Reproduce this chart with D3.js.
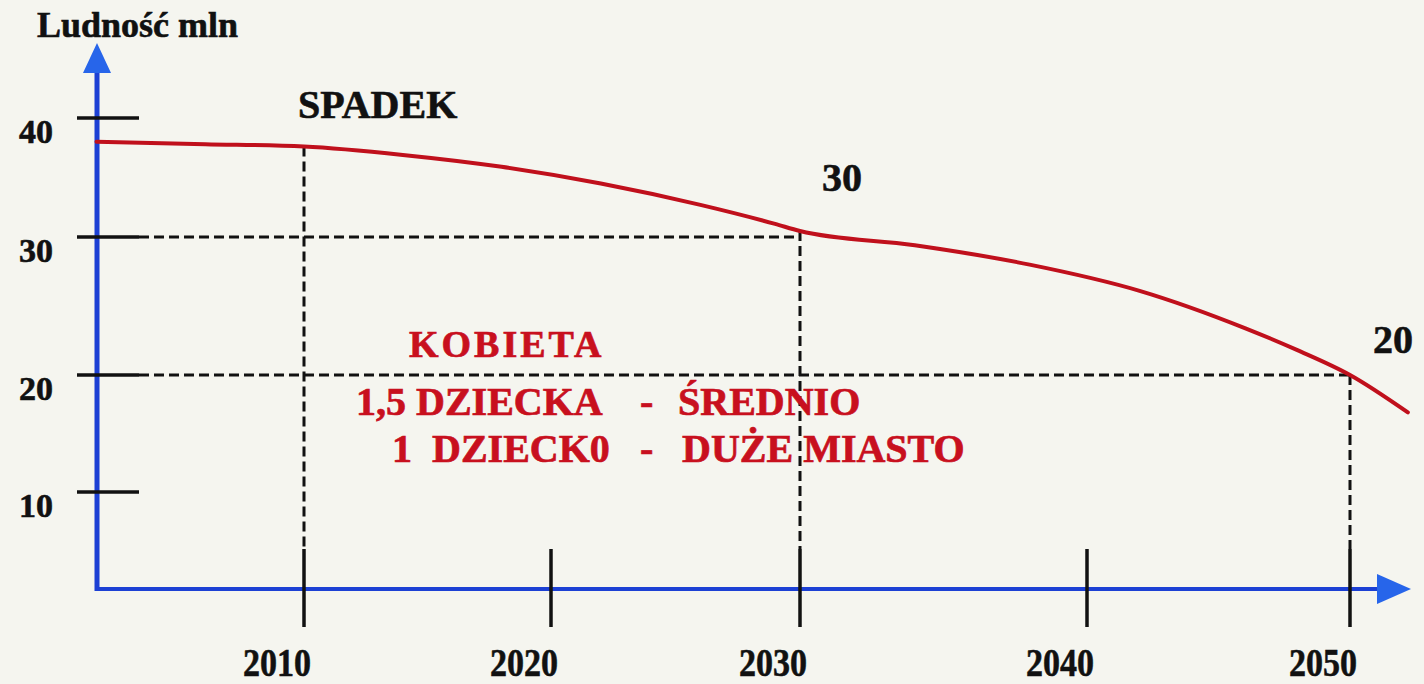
<!DOCTYPE html>
<html>
<head>
<meta charset="utf-8">
<script src="https://cdn.jsdelivr.net/npm/d3@7"></script>
<style>
  html, body { margin: 0; padding: 0; background: #f5f5ef; }
  svg { display: block; }
  text { font-family: "Liberation Serif", "Times New Roman", serif; font-weight: bold; white-space: pre; }
</style>
</head>
<body>
<svg id="chart" width="1424" height="684"></svg>
<script>
// Ludność Polski – prognoza (mln)

// population curve
const years  = [2001.6, 2006, 2010, 2014, 2018, 2022, 2026, 2029, 2030, 2034, 2038, 2042, 2046, 2048, 2050, 2052.2];
const values = [38.0, 37.8, 37.6, 36.9, 35.9, 34.5, 32.7, 31.1, 30.5, 29.4, 28.0, 26.1, 23.4, 21.8, 20.0, 16.8];

const xTickYears = [2010, 2020, 2030, 2040, 2050];
const yTickValues = [10, 20, 30, 40];

// dashed guides
const guideYears = [2010, 2030, 2050];
const guideLevels = [30, 20];
const guideLevelYears = [2030, 2050];

// annotations
const titleText = "Ludność mln";
const noteSpadek = "SPADEK";
const pointLabels = ["30", "20"];
const noteLines = [
  ["KOBIETA", "", ""],
  ["1,5 DZIECKA", "-", "ŚREDNIO"],
  ["1  DZIECK0", "-", "DUŻE MIASTO"]
];

const BLUE = "#1c40d4";
const BLUE_ARROW = "#2765ea";
const RED = "#c0101c";
const RED_TEXT = "#c8101e";
const INK = "#111";

const svg = d3.select("#chart");

// the hand-drawn axes are not evenly spaced, so polylinear scales
const x = d3.scaleLinear()
  .domain(xTickYears)
  .range([304, 551, 800, 1087, 1350]);

const y = d3.scaleLinear()
  .domain(yTickValues)
  .range([492, 375, 237, 118]);

const originX = 97;
const originY = 589;

// ---------------------------
// dashed guides
// ---------------------------
const valueAt = yr => values[years.indexOf(yr)];

svg.append("g")
  .selectAll("line")
  .data(guideYears)
  .join("line")
  .attr("x1", d => x(d))
  .attr("x2", d => x(d))
  .attr("y1", d => y(valueAt(d)))
  .attr("y2", originY - 40)
  .attr("stroke", INK)
  .attr("stroke-width", 3)
  .attr("stroke-dasharray", "10,5");

svg.append("g")
  .selectAll("line")
  .data(guideLevels)
  .join("line")
  .attr("x1", originX + 42)
  .attr("x2", (d, i) => x(guideLevelYears[i]))
  .attr("y1", d => y(d))
  .attr("y2", d => y(d))
  .attr("stroke", INK)
  .attr("stroke-width", 3)
  .attr("stroke-dasharray", "10,5");

// ---------------------------
// axes
// ---------------------------
svg.append("line")
  .attr("x1", originX).attr("x2", originX)
  .attr("y1", originY + 2).attr("y2", 70)
  .attr("stroke", BLUE).attr("stroke-width", 5);

svg.append("line")
  .attr("x1", originX - 2).attr("x2", 1380)
  .attr("y1", originY).attr("y2", originY)
  .attr("stroke", BLUE).attr("stroke-width", 4);

svg.append("path")
  .attr("d", `M${originX},43 L${originX + 14},73 L${originX - 14},73 Z`)
  .attr("fill", BLUE_ARROW);

svg.append("path")
  .attr("d", `M1411,${originY} L1377,${originY - 15} L1377,${originY + 15} Z`)
  .attr("fill", BLUE_ARROW);

// y ticks + labels
svg.append("g")
  .selectAll("line")
  .data(yTickValues)
  .join("line")
  .attr("x1", originX - 20)
  .attr("x2", originX + 42)
  .attr("y1", d => y(d))
  .attr("y2", d => y(d))
  .attr("stroke", INK)
  .attr("stroke-width", 3.5);

svg.append("g")
  .selectAll("text")
  .data(yTickValues)
  .join("text")
  .attr("x", 36)
  .attr("y", d => y(d) + 25)
  .attr("text-anchor", "middle")
  .attr("font-size", 34)
  .attr("fill", INK)
  .attr("stroke", INK)
  .attr("stroke-width", 0.6)
  .text(d => d);

// x ticks + labels
svg.append("g")
  .selectAll("line")
  .data(xTickYears)
  .join("line")
  .attr("x1", d => x(d))
  .attr("x2", d => x(d))
  .attr("y1", originY - 40)
  .attr("y2", originY + 38)
  .attr("stroke", INK)
  .attr("stroke-width", 3.5);

svg.append("g")
  .selectAll("text")
  .data(xTickYears)
  .join("text")
  .attr("x", d => x(d) - 27)
  .attr("y", 676)
  .attr("text-anchor", "middle")
  .attr("font-size", 40)
  .attr("textLength", 68)
  .attr("lengthAdjust", "spacingAndGlyphs")
  .attr("fill", INK)
  .attr("stroke", INK)
  .attr("stroke-width", 0.6)
  .text(d => d);

// ---------------------------
// population curve
// ---------------------------
const line = d3.line()
  .x(d => x(d[0]))
  .y(d => y(d[1]))
  .curve(d3.curveMonotoneX);

svg.append("path")
  .datum(d3.zip(years, values))
  .attr("d", line)
  .attr("fill", "none")
  .attr("stroke", RED)
  .attr("stroke-width", 4)
  .attr("stroke-linecap", "round");

// ---------------------------
// texts
// ---------------------------
function blackText(str, px, py, size) {
  svg.append("text")
    .attr("x", px).attr("y", py)
    .attr("font-size", size)
    .attr("fill", INK)
    .attr("stroke", INK)
    .attr("stroke-width", 0.6)
    .text(str);
}

blackText(titleText, 37, 37, 36);
blackText(noteSpadek, 298, 118, 40);
blackText(pointLabels[0], 822, 191, 40);
blackText(pointLabels[1], 1373, 353, 40);

const noteX = [[409, 0, 0], [356, 640, 678], [392, 640, 682]];
const noteY = [357, 415, 462];

noteLines.forEach((parts, i) => {
  parts.forEach((p, j) => {
    if (!p) return;
    svg.append("text")
      .attr("x", noteX[i][j])
      .attr("y", noteY[i])
      .attr("font-size", i === 0 ? 38 : 40)
      .attr("letter-spacing", i === 0 ? 3 : 0)
      .attr("fill", RED_TEXT)
      .attr("stroke", RED_TEXT)
      .attr("stroke-width", 0.7)
      .text(p);
  });
});
</script>
</body>
</html>
